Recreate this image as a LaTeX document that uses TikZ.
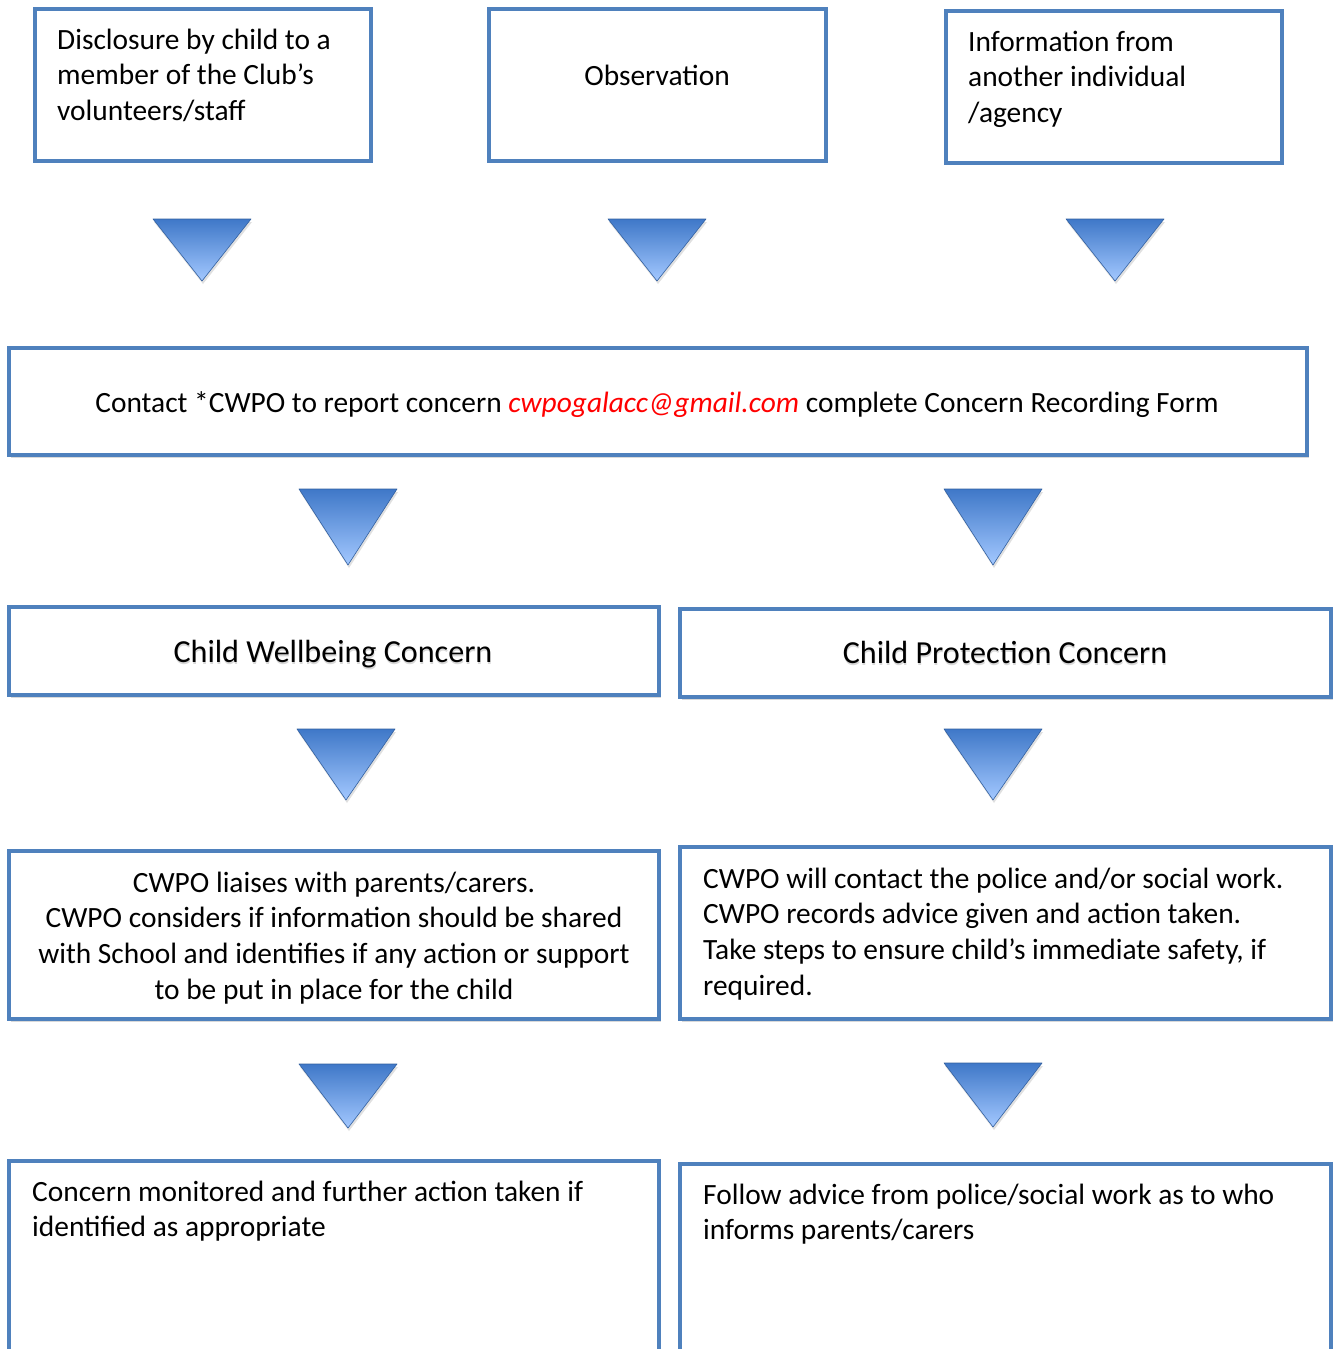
\documentclass[tikz,border=0pt]{standalone}
\usepackage{fontspec}
\setmainfont{Carlito}
\usetikzlibrary{shadows}
\definecolor{boxblue}{HTML}{4F81BD}
\definecolor{tritop}{HTML}{3F78C8}
\definecolor{tribot}{HTML}{A3C8FF}
\definecolor{mailred}{HTML}{FF0000}
\tikzset{
  box/.style={draw=boxblue, line width=4pt, fill=white},
  boxsh/.style={box, drop shadow={shadow xshift=2pt, shadow yshift=-3pt, opacity=0.25, fill=black!60}},
  tri/.style={top color=tritop, bottom color=tribot, draw=tritop!80!black, line width=0.6pt, line join=round,
     drop shadow={shadow xshift=1pt, shadow yshift=-3pt, opacity=0.2, fill=black!60}},
  txt/.style={inner sep=0pt, font=\fontsize{29.4}{35.8}\selectfont, text=black},
  big/.style={inner sep=0pt, font=\fontsize{32.1}{36}\selectfont, text=black},
  bigsh/.style={big, text=black!50, opacity=0.3},
}
\newcommand{\downtri}[3]{% left x, top y, bottom y
  \path[tri] (#1,#2) -- ++(98,0) -- (#1+49,#3) -- cycle;}
\begin{document}
\begin{tikzpicture}[x=1pt,y=-1pt]
\useasboundingbox (0,0) rectangle (1334,1349);
\clip (0,0) rectangle (1334,1349);
% top row boxes
\draw[box] (35,9) rectangle (371,161);
\node[txt, anchor=base west, text width=330pt, align=flush left] (t1) at (57,49)
  {Disclosure by child to a\\member of the Club’s\\volunteers/staff};
\draw[box] (489,9) rectangle (826,161);
\node[txt, anchor=base] (t2) at (657,85) {Observation};
\draw[box] (946,11) rectangle (1282,163);
\node[txt, anchor=base west, text width=320pt, align=flush left] (t3) at (968,51)
  {Information from\\another individual\\/agency};
% triangles row 1
\downtri{153}{219}{281}
\downtri{608}{219}{281}
\downtri{1066}{219}{281}
% contact box
\draw[boxsh] (9,348) rectangle (1307,455);
\node[txt, anchor=base] (t4) at (657,412)
  {Contact *CWPO to report concern {\color{mailred}\itshape cwpogalacc@gmail.com} complete Concern Recording Form};
% triangles row 2
\downtri{299}{489}{565}
\downtri{944}{489}{565}
% concern boxes
\draw[boxsh] (9,607) rectangle (659,695);
\node[bigsh, anchor=base] at (333.5,664.5) {Child Wellbeing Concern};
\node[big, anchor=base] (t5) at (333,662) {Child Wellbeing Concern};
\draw[boxsh] (680,609) rectangle (1331,697);
\node[bigsh, anchor=base] at (1005.5,665.5) {Child Protection Concern};
\node[big, anchor=base] (t6) at (1005,663) {Child Protection Concern};
% triangles row 3
\downtri{297}{729}{800}
\downtri{944}{729}{800}
% action boxes
\draw[boxsh] (9,851) rectangle (659,1019);
\node[txt, anchor=base, text width=640pt, align=flush center] (t7) at (334,892)
  {CWPO liaises with parents/carers.\\CWPO considers if information should be shared\\with School and identifies if any action or support\\to be put in place for the child};
\draw[boxsh] (680,847) rectangle (1331,1019);
\node[txt, anchor=base west, text width=640pt, align=flush left] (t8) at (703,888)
  {CWPO will contact the police and/or social work.\\CWPO records advice given and action taken.\\Take steps to ensure child’s immediate safety, if\\required.};
% triangles row 4
\downtri{299}{1064}{1128}
\downtri{944}{1063}{1127}
% final boxes
\draw[boxsh] (9,1161) rectangle (659,1400);
\node[txt, anchor=base west, text width=640pt, align=flush left] (t9) at (32,1201)
  {Concern monitored and further action taken if\\identified as appropriate};
\draw[boxsh] (680,1164) rectangle (1331,1400);
\node[txt, anchor=base west, text width=640pt, align=flush left] (t10) at (703,1204)
  {Follow advice from police/social work as to who\\informs parents/carers};
\end{tikzpicture}
\end{document}
